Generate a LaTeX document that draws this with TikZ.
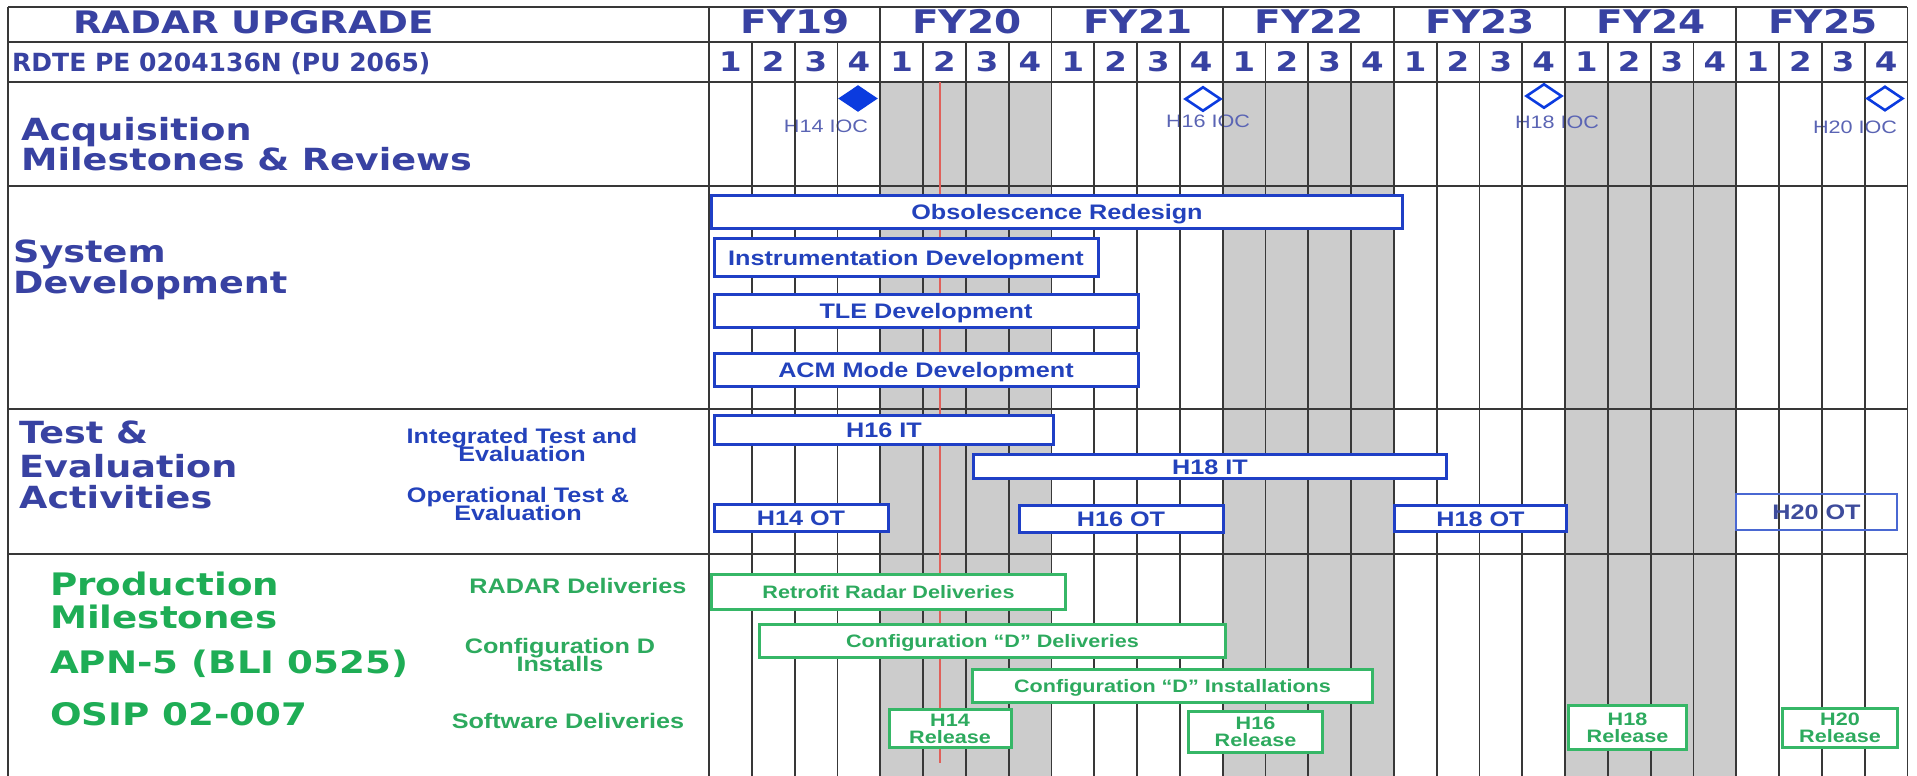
\documentclass[tikz,border=0pt]{standalone}
\usepackage{fontspec}
\usepackage{tikz}
\usetikzlibrary{shapes.geometric}
\newfontfamily\headfont[FakeStretch=1.2]{DejaVu Sans}
\newfontfamily\tagfont{DejaVu Sans}
\newfontfamily\barfont[FakeStretch=1.2]{Liberation Sans}
\newcommand\tightlines{\lineskiplimit=-30pt\relax}
\definecolor{HeadBlue}{HTML}{3842A2}
\definecolor{BarBlue}{HTML}{1F3FC6}
\definecolor{BarText}{HTML}{2342BC}
\definecolor{MileBlue}{HTML}{0B3BDF}
\definecolor{MileText}{HTML}{5A64B4}
\definecolor{PaleBlue}{HTML}{4A68D2}
\definecolor{SlateBlue}{HTML}{3E4C9C}
\definecolor{HeadGreen}{HTML}{1EAD55}
\definecolor{BarGreen}{HTML}{36B767}
\definecolor{GreenText}{HTML}{2DAA5E}
\definecolor{ShadeGray}{HTML}{CCCCCC}
\definecolor{GridGray}{HTML}{383838}
\definecolor{TodayRed}{HTML}{E0605A}

\begin{document}
\begin{tikzpicture}[
  x=1pt, y=-1pt,
  gridline/.style={draw=GridGray, line width=1.8pt},
  rowline/.style={draw=GridGray, line width=1.9pt},
  todayline/.style={draw=TodayRed, line width=1.5pt},
  heading/.style={
    anchor=base west,
    inner sep=0pt,
    text=HeadBlue,
    font=\headfont\bfseries\fontsize{30.5}{30.5}\selectfont
  },
  prodhead/.style={heading, text=HeadGreen,
    font=\headfont\bfseries\fontsize{31}{31}\selectfont},
  fyhead/.style={anchor=base, inner sep=0pt, text=HeadBlue,
    font=\headfont\bfseries\fontsize{32.5}{32.5}\selectfont},
  quarter/.style={anchor=base, inner sep=0pt, text=HeadBlue,
    font=\headfont\bfseries\fontsize{27}{27}\selectfont},
  sublabel/.style={
    align=center,
    inner sep=0pt,
    text=BarText,
    font=\barfont\bfseries\fontsize{21}{18}\selectfont\tightlines
  },
  greenlabel/.style={sublabel, text=GreenText},
  ioc/.style={anchor=base, inner sep=0pt, text=MileText,
    font=\barfont\fontsize{18}{18}\selectfont},
  mile/.style={
    shape=diamond,
    draw=MileBlue,
    line width=2.6pt,
    minimum width=36pt,
    minimum height=24.5pt,
    inner sep=0pt
  },
  devbar/.style={
    draw=BarBlue,
    fill=white,
    line width=3pt,
    inner sep=0pt,
    text=BarText,
    text height=15pt,
    text depth=0pt,
    font=\barfont\bfseries\fontsize{21}{21}\selectfont
  },
  prodbar/.style={devbar, draw=BarGreen, text=GreenText, text height=13pt,
    font=\barfont\bfseries\fontsize{18}{18}\selectfont},
  relbar/.style={
    draw=BarGreen,
    fill=white,
    line width=3pt,
    inner sep=0pt,
    align=center,
    text=GreenText,
    font=\barfont\bfseries\fontsize{18}{17}\selectfont\tightlines
  }
]

\path[use as bounding box, fill=white] (0,0) rectangle (1917,776);

% shaded fiscal years
\foreach \f in {1,3,5}
  \fill[ShadeGray] ({709+171.2*\f},82) rectangle ({709+171.2*(\f+1)},776);

\node[ioc] (ioc14lbl) at (826,132) {H14 IOC};
\node[ioc] (ioc16lbl) at (1208,127.5) {H16 IOC};
\node[ioc] (ioc18lbl) at (1557,128) {H18 IOC};
\node[ioc] (ioc20lbl) at (1855,133) {H20 IOC};

% grid
\foreach \q in {0,...,28}
  \draw[gridline] ({709+42.8*\q},42) -- ({709+42.8*\q},776);
\foreach \f in {0,...,7}
  \draw[gridline] ({709+171.2*\f},7) -- ({709+171.2*\f},42);
\foreach \y in {7,42,82,186,409,554}
  \draw[rowline] (8,\y) -- (1907.4,\y);
\draw[rowline] (8,7) -- (8,776);

\coordinate (today) at (940,82);
\draw[todayline] (today) -- ++(0,681);

\foreach \f [count=\i from 0] in {19,...,25}
  \node[fyhead] (fy\f) at ({709+171.2*\i+86.5},33.5) {FY\f};
\foreach \q in {0,...,27}{
  \pgfmathtruncatemacro\qn{mod(\q,4)+1}
  \node[quarter] (q\q) at ({709+42.8*\q+21.4},71.5) {\qn};
}

\node[heading, font=\headfont\bfseries\fontsize{31}{31}\selectfont] (title)
  at (73,33.5) {RADAR UPGRADE};
\node[heading, font=\tagfont\bfseries\fontsize{25}{25}\selectfont] (rdte)
  at (12,72) {RDTE PE 0204136N (PU 2065)};

% acquisition milestones
\node[heading] (acqA) at (21,140) {Acquisition};
\node[heading] (acqB) at (21,170) {Milestones \& Reviews};
\node[mile, fill=MileBlue] (ioc14) at (858,98.5) {};
\node[mile, fill=white] (ioc16) at (1203,99) {};
\node[mile, fill=white] (ioc18) at (1544,96) {};
\node[mile, fill=white] (ioc20) at (1885,98.5) {};

% system development
\node[heading] (sysA) at (13,262) {System};
\node[heading] (sysB) at (13,293) {Development};
\node[devbar, minimum width=691pt, minimum height=33pt] (obsolete)
  at (1057,212) {Obsolescence Redesign};
\node[devbar, minimum width=384pt, minimum height=38pt] (instrument)
  at (906,257.5) {Instrumentation Development};
\node[devbar, minimum width=424pt, minimum height=33pt] (tle)
  at (926,311) {TLE Development};
\node[devbar, minimum width=424pt, minimum height=33pt] (acm)
  at (926,370) {ACM Mode Development};

% test and evaluation
\node[heading] (teA) at (19,443) {Test \&};
\node[heading] (teB) at (19,477) {Evaluation};
\node[heading] (teC) at (19,508) {Activities};
\node[sublabel] (itlabel) at (522,444.5) {Integrated Test and\\Evaluation};
\node[sublabel] (otlabel) at (518,503.5) {Operational Test \&\\Evaluation};
\node[devbar, minimum width=339pt, minimum height=29pt] (it16) at (884,430) {H16 IT};
\node[devbar, minimum width=473pt, minimum height=24pt] (it18) at (1210,466.5) {H18 IT};
\node[devbar, minimum width=174pt, minimum height=27pt] (ot14) at (801,518) {H14 OT};
\node[devbar, minimum width=204pt, minimum height=27pt] (ot16) at (1121,519) {H16 OT};
\node[devbar, minimum width=172pt, minimum height=26pt] (ot18) at (1480.5,518.5) {H18 OT};
\node[devbar, draw=PaleBlue, fill=none, line width=2pt, text=SlateBlue,
  minimum width=161pt, minimum height=36pt] (ot20) at (1816.5,512) {H20 OT};

% production
\node[prodhead] (prodA) at (50,595) {Production};
\node[prodhead] (prodB) at (50,628) {Milestones};
\node[prodhead] (prodC) at (50,673) {APN-5 (BLI 0525)};
\node[prodhead] (prodD) at (50,725) {OSIP 02-007};
\node[greenlabel, anchor=base] (radarlbl) at (578,593.5) {RADAR Deliveries};
\node[greenlabel] (cfglbl) at (560,654.5) {Configuration D\\Installs};
\node[greenlabel, anchor=base] (swlbl) at (568,728.5) {Software Deliveries};
\node[prodbar, minimum width=354pt, minimum height=35pt] (retrofit)
  at (888.5,592) {Retrofit Radar Deliveries};
\node[prodbar, minimum width=466pt, minimum height=33pt] (cfgdeliv)
  at (992.5,641) {Configuration “D” Deliveries};
\node[prodbar, minimum width=400pt, minimum height=33pt] (cfginst)
  at (1172.5,686) {Configuration “D” Installations};
\node[relbar, minimum width=122pt, minimum height=38pt] (rel14) at (950,728.5) {H14\\Release};
\node[relbar, minimum width=134pt, minimum height=41pt] (rel16) at (1255.5,732) {H16\\Release};
\node[relbar, minimum width=118pt, minimum height=44pt] (rel18) at (1627.5,727.5) {H18\\Release};
\node[relbar, minimum width=115pt, minimum height=39pt] (rel20) at (1840,728) {H20\\Release};
\end{tikzpicture}
\end{document}
